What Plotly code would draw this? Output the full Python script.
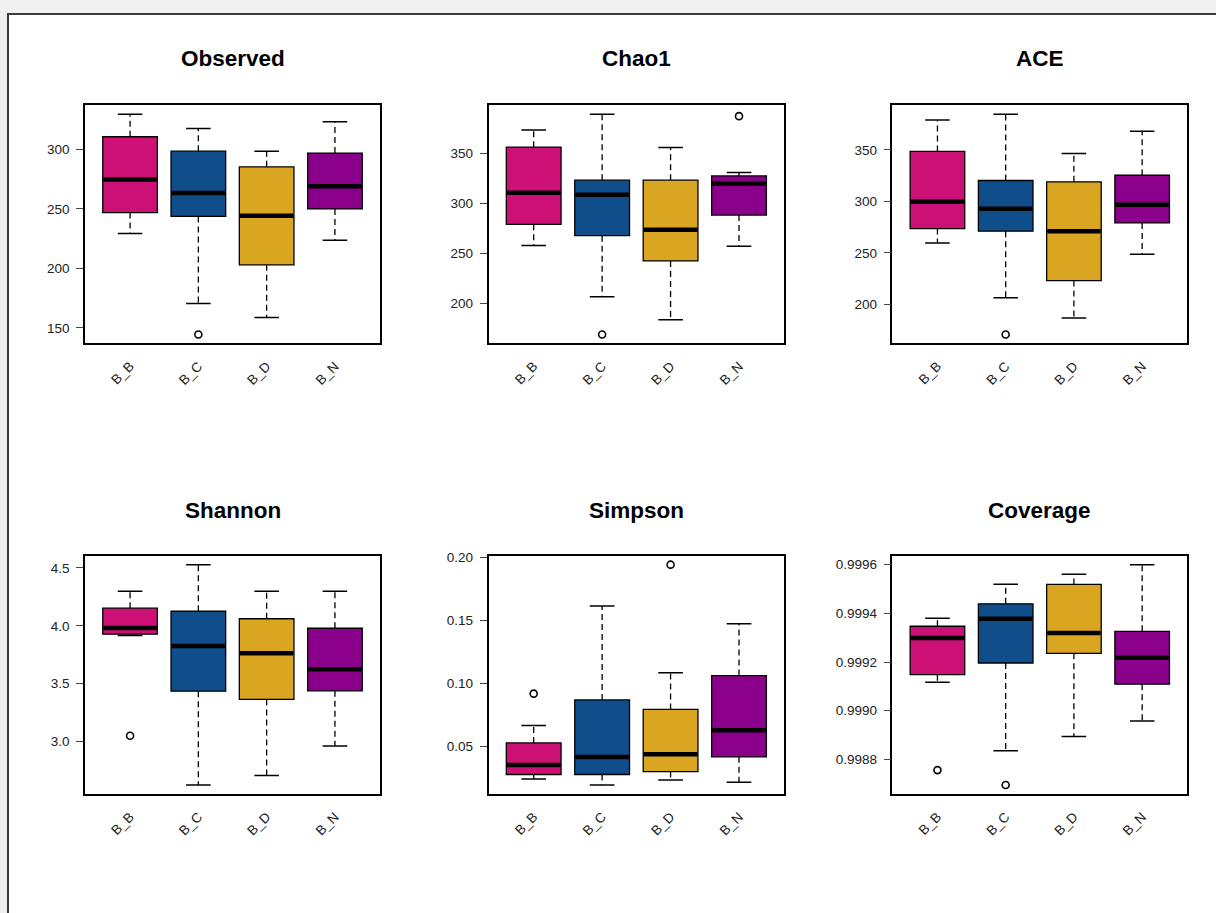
import plotly.graph_objects as go

# ---------------- data ----------------
groups = ["B_B", "B_C", "B_D", "B_N"]
group_colors = ["#CD1076", "#104E8B", "#DAA520", "#8B008B"]

observed_low = [229.4, 170.6, 158.8, 223.6]
observed_q1 = [247.0, 243.7, 203.0, 250.0]
observed_med = [274.7, 263.5, 244.2, 269.0]
observed_q3 = [310.7, 298.6, 285.4, 297.0]
observed_high = [329.7, 317.6, 298.6, 323.4]
observed_out_group = ["B_C"]
observed_out_value = [144.5]

chao1_low = [257.6, 206.2, 183.3, 257.0]
chao1_q1 = [278.9, 267.5, 242.2, 288.1]
chao1_med = [310.4, 308.4, 273.4, 319.9]
chao1_q3 = [356.2, 323.1, 323.1, 327.4]
chao1_high = [373.3, 389.3, 355.9, 330.7]
chao1_out_group = ["B_C", "B_N"]
chao1_out_value = [168.5, 387.3]

ace_low = [259.6, 206.3, 186.7, 248.6]
ace_q1 = [273.6, 271.0, 223.1, 279.0]
ace_med = [299.7, 292.9, 271.0, 296.7]
ace_q3 = [348.4, 320.2, 318.9, 325.3]
ace_high = [378.9, 384.6, 346.5, 368.1]
ace_out_group = ["B_C"]
ace_out_value = [170.8]

shannon_low = [3.917, 2.626, 2.708, 2.963]
shannon_q1 = [3.928, 3.436, 3.365, 3.439]
shannon_med = [3.982, 3.826, 3.764, 3.625]
shannon_q3 = [4.152, 4.126, 4.061, 3.979]
shannon_high = [4.299, 4.528, 4.299, 4.299]
shannon_out_group = ["B_B"]
shannon_out_value = [3.051]

simpson_low = [0.0243, 0.0196, 0.0235, 0.0217]
simpson_q1 = [0.0279, 0.0279, 0.0302, 0.0419]
simpson_med = [0.0354, 0.0417, 0.0440, 0.0630]
simpson_q3 = [0.0529, 0.0869, 0.0794, 0.1062]
simpson_high = [0.0666, 0.1613, 0.1085, 0.1472]
simpson_out_group = ["B_B", "B_D"]
simpson_out_value = [0.0919, 0.194]

coverage_low = [0.999117, 0.998836, 0.998894, 0.998958]
coverage_q1 = [0.999148, 0.999196, 0.999236, 0.999109]
coverage_med = [0.999299, 0.999378, 0.999319, 0.999218]
coverage_q3 = [0.999347, 0.999439, 0.999519, 0.999326]
coverage_high = [0.999380, 0.999520, 0.999561, 0.999600]
coverage_out_group = ["B_B", "B_C"]
coverage_out_value = [0.998756, 0.998695]

panel_titles = ["Observed", "Chao1", "ACE", "Shannon", "Simpson", "Coverage"]
panel_ticks = [
    [150, 200, 250, 300],
    [200, 250, 300, 350],
    [200, 250, 300, 350],
    [3.0, 3.5, 4.0, 4.5],
    [0.05, 0.10, 0.15, 0.20],
    [0.9988, 0.9990, 0.9992, 0.9994, 0.9996],
]
panel_tickformat = ["d", "d", "d", ".1f", ".2f", ".4f"]

panels = [
    (observed_low, observed_q1, observed_med, observed_q3, observed_high, observed_out_group, observed_out_value),
    (chao1_low, chao1_q1, chao1_med, chao1_q3, chao1_high, chao1_out_group, chao1_out_value),
    (ace_low, ace_q1, ace_med, ace_q3, ace_high, ace_out_group, ace_out_value),
    (shannon_low, shannon_q1, shannon_med, shannon_q3, shannon_high, shannon_out_group, shannon_out_value),
    (simpson_low, simpson_q1, simpson_med, simpson_q3, simpson_high, simpson_out_group, simpson_out_value),
    (coverage_low, coverage_q1, coverage_med, coverage_q3, coverage_high, coverage_out_group, coverage_out_value),
]

# ---------------- layout geometry (pixels) ----------------
W, H = 1216, 913
col_px = [(85.0, 380.0), (488.5, 784.2), (892.4, 1187.2)]
row_px = [(100.0, 339.5), (553.5, 793.0)]
title_y_px = [53, 508]

BOX_W = 0.8
CAP_W = 0.36
FONT = "Liberation Sans, Arial, sans-serif"

fig = go.Figure()
positions = [1, 2, 3, 4]
pos_of = dict(zip(groups, positions))

layout_axes = {}
annotations = []
for i, (low, q1, med, q3, high, og, ov) in enumerate(panels):
    r, c = divmod(i, 3)
    n = i + 1
    xa = "x" if n == 1 else f"x{n}"
    ya = "y" if n == 1 else f"y{n}"

    # boxes
    for g, p, col, a, m, b in zip(groups, positions, group_colors, q1, med, q3):
        fig.add_trace(go.Box(
            x=[p], q1=[a], median=[m], q3=[b], lowerfence=[a], upperfence=[b],
            fillcolor=col, line=dict(color="black", width=1.3), width=BOX_W,
            whiskerwidth=0, boxpoints=False, showlegend=False, name=g,
            xaxis=xa, yaxis=ya, hoverinfo="skip",
        ))

    # dashed whiskers
    wx, wy = [], []
    for p, lo, a, b, hi in zip(positions, low, q1, q3, high):
        wx += [p, p, None, p, p, None]
        wy += [b, hi, None, a, lo, None]
    fig.add_trace(go.Scatter(x=wx, y=wy, mode="lines",
                             line=dict(color="black", width=1.3, dash="6px,4px"),
                             showlegend=False, hoverinfo="skip", xaxis=xa, yaxis=ya))
    # caps
    cx, cy = [], []
    for p, lo, hi in zip(positions, low, high):
        cx += [p - CAP_W / 2, p + CAP_W / 2, None, p - CAP_W / 2, p + CAP_W / 2, None]
        cy += [hi, hi, None, lo, lo, None]
    fig.add_trace(go.Scatter(x=cx, y=cy, mode="lines",
                             line=dict(color="black", width=1.5),
                             showlegend=False, hoverinfo="skip", xaxis=xa, yaxis=ya))
    # thick medians
    mx, my = [], []
    for p, m in zip(positions, med):
        mx += [p - BOX_W / 2 + 0.01, p + BOX_W / 2 - 0.01, None]
        my += [m, m, None]
    fig.add_trace(go.Scatter(x=mx, y=my, mode="lines",
                             line=dict(color="black", width=4.5),
                             showlegend=False, hoverinfo="skip", xaxis=xa, yaxis=ya))
    # outliers
    fig.add_trace(go.Scatter(x=[pos_of[g] for g in og], y=ov, mode="markers",
                             marker=dict(symbol="circle-open", size=7, color="black",
                                         line=dict(width=1.6, color="black")),
                             showlegend=False, hoverinfo="skip", xaxis=xa, yaxis=ya))

    # axis ranges (R style: data range extended by 4%)
    vmin = min(min(low), min(ov) if ov else min(low))
    vmax = max(max(high), max(ov) if ov else max(high))
    ext = (vmax - vmin) * 0.04
    x0, x1 = col_px[c]
    y0, y1 = row_px[r]
    layout_axes["xaxis" if n == 1 else f"xaxis{n}"] = dict(
        domain=[x0 / W, x1 / W], anchor=ya, range=[0.34, 4.66],
        tickvals=positions, ticktext=groups, tickangle=-45,
        ticks="outside", ticklen=1, tickcolor="rgba(0,0,0,0)", ticklabelstandoff=7,
        showgrid=False, zeroline=False, showline=True, mirror=True,
        linecolor="black", linewidth=1.5,
        tickfont=dict(family=FONT, size=13.5, color="#222"),
    )
    layout_axes["yaxis" if n == 1 else f"yaxis{n}"] = dict(
        domain=[1 - y1 / H, 1 - y0 / H], anchor=xa, range=[vmin - ext, vmax + ext],
        tickvals=panel_ticks[i], tickformat=panel_tickformat[i],
        ticks="outside", ticklen=7, tickwidth=1, tickcolor="#444",
        ticklabelstandoff=4,
        showgrid=False, zeroline=False, showline=True, mirror=True,
        linecolor="black", linewidth=1.5,
        tickfont=dict(family=FONT, size=13.5, color="#222"),
    )
    annotations.append(dict(
        text=f"<b>{panel_titles[i]}</b>", xref="paper", yref="paper",
        x=(x0 + x1) / 2 / W, y=1 - title_y_px[r] / H, xanchor="center", yanchor="middle",
        showarrow=False, font=dict(family=FONT, size=22.5, color="black"),
    ))

fig.update_layout(
    width=W, height=H, margin=dict(l=0, r=0, t=0, b=0),
    paper_bgcolor="#f0f0f0", plot_bgcolor="white",
    boxmode="overlay", showlegend=False,
    annotations=annotations,
    shapes=[dict(type="rect", xref="paper", yref="paper",
                 x0=8 / W, x1=1.02, y0=-0.02, y1=1 - 8 / H,
                 fillcolor="white", line=dict(color="#3a3a3a", width=2), layer="below")],
    **layout_axes,
)

fig.write_html(
    "out.html",
    config={"displayModeBar": False},
    post_script=(
        "var de=document.documentElement,b=document.body;"
        "de.style.margin='0';de.style.padding='0';de.style.overflow='hidden';de.style.height='913px';"
        "b.style.margin='0';b.style.padding='0';b.style.overflow='hidden';b.style.height='913px';"
        "var d=document.getElementById('{plot_id}');var p=d.parentElement;"
        "p.style.fontSize='0';p.style.lineHeight='0';p.style.height='913px';p.style.overflow='hidden';"
        "d.style.position='fixed';d.style.top='0px';d.style.left='0px';"
    ),
)
